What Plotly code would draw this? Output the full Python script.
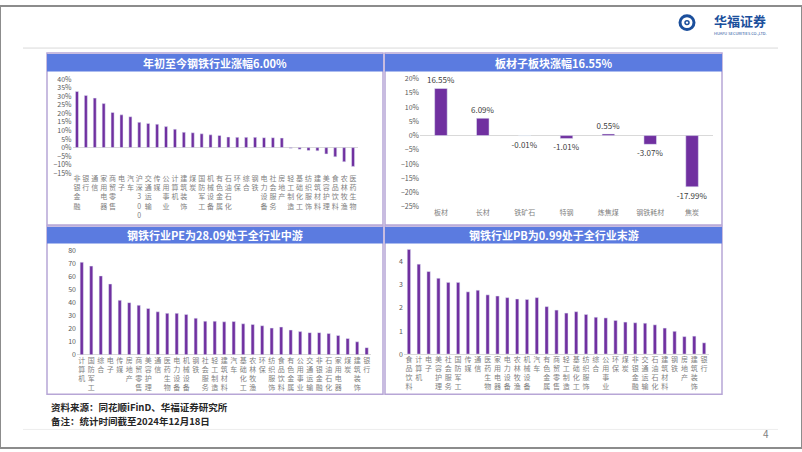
import plotly.graph_objects as go

W, H = 802, 452

# ---------------- data ----------------
ytd_cats = ["非银金融", "银行", "通信", "家用电器", "商贸零售", "电子", "汽车", "沪深300",
            "交通运输", "传媒", "公用事业", "计算机", "建筑装饰", "煤炭", "国防军工", "机械设备",
            "有色金属", "石油石化", "环保", "综合", "钢铁", "电力设备", "社会服务", "房地产",
            "轻工制造", "基础化工", "纺织服饰", "建筑材料", "美容护理", "食品饮料", "农林牧渔", "医药生物"]
ytd_vals = [32.9, 30.6, 29.0, 25.8, 20.6, 19.2, 18.1, 14.8,
            14.2, 13.7, 12.3, 10.8, 9.0, 8.7, 8.1, 7.5,
            7.1, 6.2, 6.0, 6.0, 6.0, 5.8, 5.8, 5.6,
            -0.4, -1.0, -1.7, -1.9, -3.7, -5.4, -8.3, -11.0]

sub_cats = ["板材", "长材", "铁矿石", "特钢", "炼焦煤", "钢铁耗材", "焦炭"]
sub_vals = [16.55, 6.09, -0.01, -1.01, 0.55, -3.07, -17.99]

pe_cats = ["计算机", "国防军工", "综合", "电子", "传媒", "房地产", "商贸零售", "美容护理",
           "通信", "医药生物", "电力设备", "机械设备", "钢铁", "社会服务", "轻工制造", "建筑材料",
           "汽车", "基础化工", "农林牧渔", "环保", "纺织服饰", "食品饮料", "有色金属", "公用事业",
           "交通运输", "非银金融", "石油石化", "家用电器", "煤炭", "建筑装饰", "银行"]
pe_vals = [71.0, 68.0, 60.5, 54.3, 41.8, 40.0, 38.0, 35.5,
           33.0, 31.8, 31.8, 31.0, 28.09, 25.8, 25.8, 25.3,
           25.5, 23.8, 23.3, 22.3, 20.5, 21.3, 19.0, 17.8,
           17.0, 17.0, 16.3, 14.8, 12.5, 10.0, 5.5]

pb_cats = ["食品饮料", "计算机", "电子", "美容护理", "社会服务", "国防军工", "传媒", "通信",
           "医药生物", "家用电器", "电力设备", "农林牧渔", "机械设备", "汽车", "有色金属", "商贸零售",
           "轻工制造", "基础化工", "纺织服饰", "综合", "公用事业", "环保", "煤炭", "非银金融",
           "交通运输", "石油石化", "建筑材料", "钢铁", "房地产", "建筑装饰", "银行"]
pb_vals = [4.54, 3.90, 3.58, 3.29, 3.11, 3.11, 2.70, 2.77,
           2.57, 2.52, 2.45, 2.39, 2.37, 2.45, 2.06, 1.91,
           1.78, 1.84, 1.72, 1.60, 1.57, 1.46, 1.39, 1.36,
           1.34, 1.27, 1.13, 0.99, 0.76, 0.78, 0.49]

titles = ["年初至今钢铁行业涨幅6.00%", "板材子板块涨幅16.55%",
          "钢铁行业PE为28.09处于全行业中游", "钢铁行业PB为0.99处于全行业末游"]

# ---------------- style ----------------
FONT = "Noto Sans CJK SC"
PURPLE = "#7030A0"
TITLE_BG = "#5B7BE0"
BORDER = "#B7A6D6"
TICK_C = "#595959"


def px(x):
    return x / W


def py(y):
    return 1 - y / H


def vert(s):
    return "<br>".join(list(s))


fig = go.Figure()

fig.add_trace(go.Bar(x=ytd_cats, y=ytd_vals, marker_color=PURPLE, xaxis="x", yaxis="y"))
fig.add_trace(go.Bar(x=sub_cats, y=sub_vals, marker_color=PURPLE, xaxis="x2", yaxis="y2", width=0.3,
                     text=[f"{v:.2f}%" for v in sub_vals], textposition="outside", constraintext="none",
                     textfont=dict(size=8, color="#404040", family=FONT), cliponaxis=False))
fig.add_trace(go.Bar(x=pe_cats, y=pe_vals, marker_color=PURPLE, xaxis="x3", yaxis="y3"))
fig.add_trace(go.Bar(x=pb_cats, y=pb_vals, marker_color=PURPLE, xaxis="x4", yaxis="y4"))

tickfont = dict(size=7, color=TICK_C, family=FONT)
catfont = dict(size=7, color="#7F7F7F", family=FONT)


def xax(dom, cats, anchor, vertical=True):
    return dict(domain=dom, anchor=anchor, type="category", tickmode="array",
                tickvals=cats, ticktext=[vert(c) if vertical else c for c in cats], tickangle=0,
                tickfont=catfont, showgrid=False, zeroline=False, showline=False, ticks="")


def yax(dom, rng, dtick, anchor, suffix=""):
    return dict(domain=dom, anchor=anchor, range=rng, dtick=dtick, ticksuffix=suffix,
                tickfont=tickfont, showgrid=False, zeroline=True, zerolinecolor="#D9D9D9",
                zerolinewidth=1, showline=False, ticks="")


fig.update_layout(
    width=W, height=H, margin=dict(l=0, r=0, t=0, b=0),
    paper_bgcolor="white", plot_bgcolor="rgba(0,0,0,0)",
    showlegend=False, bargap=0.66,
    font=dict(family=FONT),
    xaxis=xax([px(72.5), px(357.5)], ytd_cats, "y"),
    yaxis=yax([py(171), py(75)], [-15, 40], 5, "x", "%"),
    xaxis2=xax([px(420), px(713)], sub_cats, "y2", vertical=False),
    yaxis2=yax([py(205.3), py(74.3)], [-25, 20], 5, "x2", "%"),
    xaxis3=xax([px(77), px(371.4)], pe_cats, "y3"),
    yaxis3=yax([py(356.7), py(250)], [0, 80], 10, "x3"),
    xaxis4=xax([px(404), px(709)], pb_cats, "y4"),
    yaxis4=yax([py(356), py(247.5)], [0, 4.6], 1, "x4"),
)

shapes = []
annos = []
# slide border
shapes.append(dict(type="rect", xref="paper", yref="paper", x0=0, x1=1, y0=0, y1=1,
                   line=dict(color="#8C8C8C", width=2), fillcolor="rgba(0,0,0,0)", layer="above"))
# header line
shapes.append(dict(type="line", xref="paper", yref="paper", x0=px(23), x1=px(778), y0=py(43), y1=py(43),
                   line=dict(color="#D9D9D9", width=1)))
# footer line
shapes.append(dict(type="line", xref="paper", yref="paper", x0=px(23), x1=px(778), y0=py(433), y1=py(433),
                   line=dict(color="#EDEDED", width=1)))

panels = [(47, 383, 48, 224, 49, 67), (385, 722, 48, 224, 49, 67),
          (47, 383, 225, 397, 226, 243), (385, 722, 225, 397, 226, 243)]
for (x0, x1, y0, y1, t0, t1), t in zip(panels, titles):
    shapes.append(dict(type="rect", xref="paper", yref="paper", x0=px(x0), x1=px(x1), y0=py(y1), y1=py(y0),
                       line=dict(color=BORDER, width=1.5), fillcolor="rgba(0,0,0,0)", layer="below"))
    shapes.append(dict(type="rect", xref="paper", yref="paper", x0=px(x0), x1=px(x1), y0=py(t1), y1=py(t0),
                       line=dict(width=0), fillcolor=TITLE_BG, layer="below"))
    annos.append(dict(xref="paper", yref="paper", x=px((x0 + x1) / 2), y=py((t0 + t1) / 2), text=f"<b>{t}</b>",
                      showarrow=False, font=dict(size=11, color="white", family=FONT),
                      xanchor="center", yanchor="middle"))

# logo
shapes.append(dict(type="circle", xref="paper", yref="paper", x0=px(680), x1=px(694), y0=py(24), y1=py(10),
                   line=dict(color="#1B4F9C", width=3), fillcolor="white"))
shapes.append(dict(type="circle", xref="paper", yref="paper", x0=px(685), x1=px(689), y0=py(19), y1=py(15),
                   line=dict(color="#1B4F9C", width=1.5), fillcolor="white"))
annos.append(dict(xref="paper", yref="paper", x=px(740), y=py(15), text="<b>华福证券</b>", showarrow=False,
                  font=dict(size=13, color="#1B4F9C", family=FONT), xanchor="center", yanchor="middle"))
annos.append(dict(xref="paper", yref="paper", x=px(740), y=py(28), text="HUAFU SECURITIES CO.,LTD.",
                  showarrow=False, font=dict(size=4, color="#1B4F9C"), xanchor="center", yanchor="middle"))

# footnotes
annos.append(dict(xref="paper", yref="paper", x=px(49), y=py(410), text="<b>资料来源：同花顺iFinD、华福证券研究所</b>",
                  showarrow=False, font=dict(size=9.5, color="#262626", family=FONT), xanchor="left", yanchor="middle"))
annos.append(dict(xref="paper", yref="paper", x=px(49), y=py(424), text="<b>备注：统计时间截至2024年12月18日</b>",
                  showarrow=False, font=dict(size=9.5, color="#262626", family=FONT), xanchor="left", yanchor="middle"))
annos.append(dict(xref="paper", yref="paper", x=px(766), y=py(437), text="4", showarrow=False,
                  font=dict(size=10, color="#7F7F7F"), xanchor="center", yanchor="middle"))

fig.update_layout(shapes=shapes, annotations=annos)
fig.write_html("out.html", post_script="document.body.style.margin='0';",
               config={"displayModeBar": False})
